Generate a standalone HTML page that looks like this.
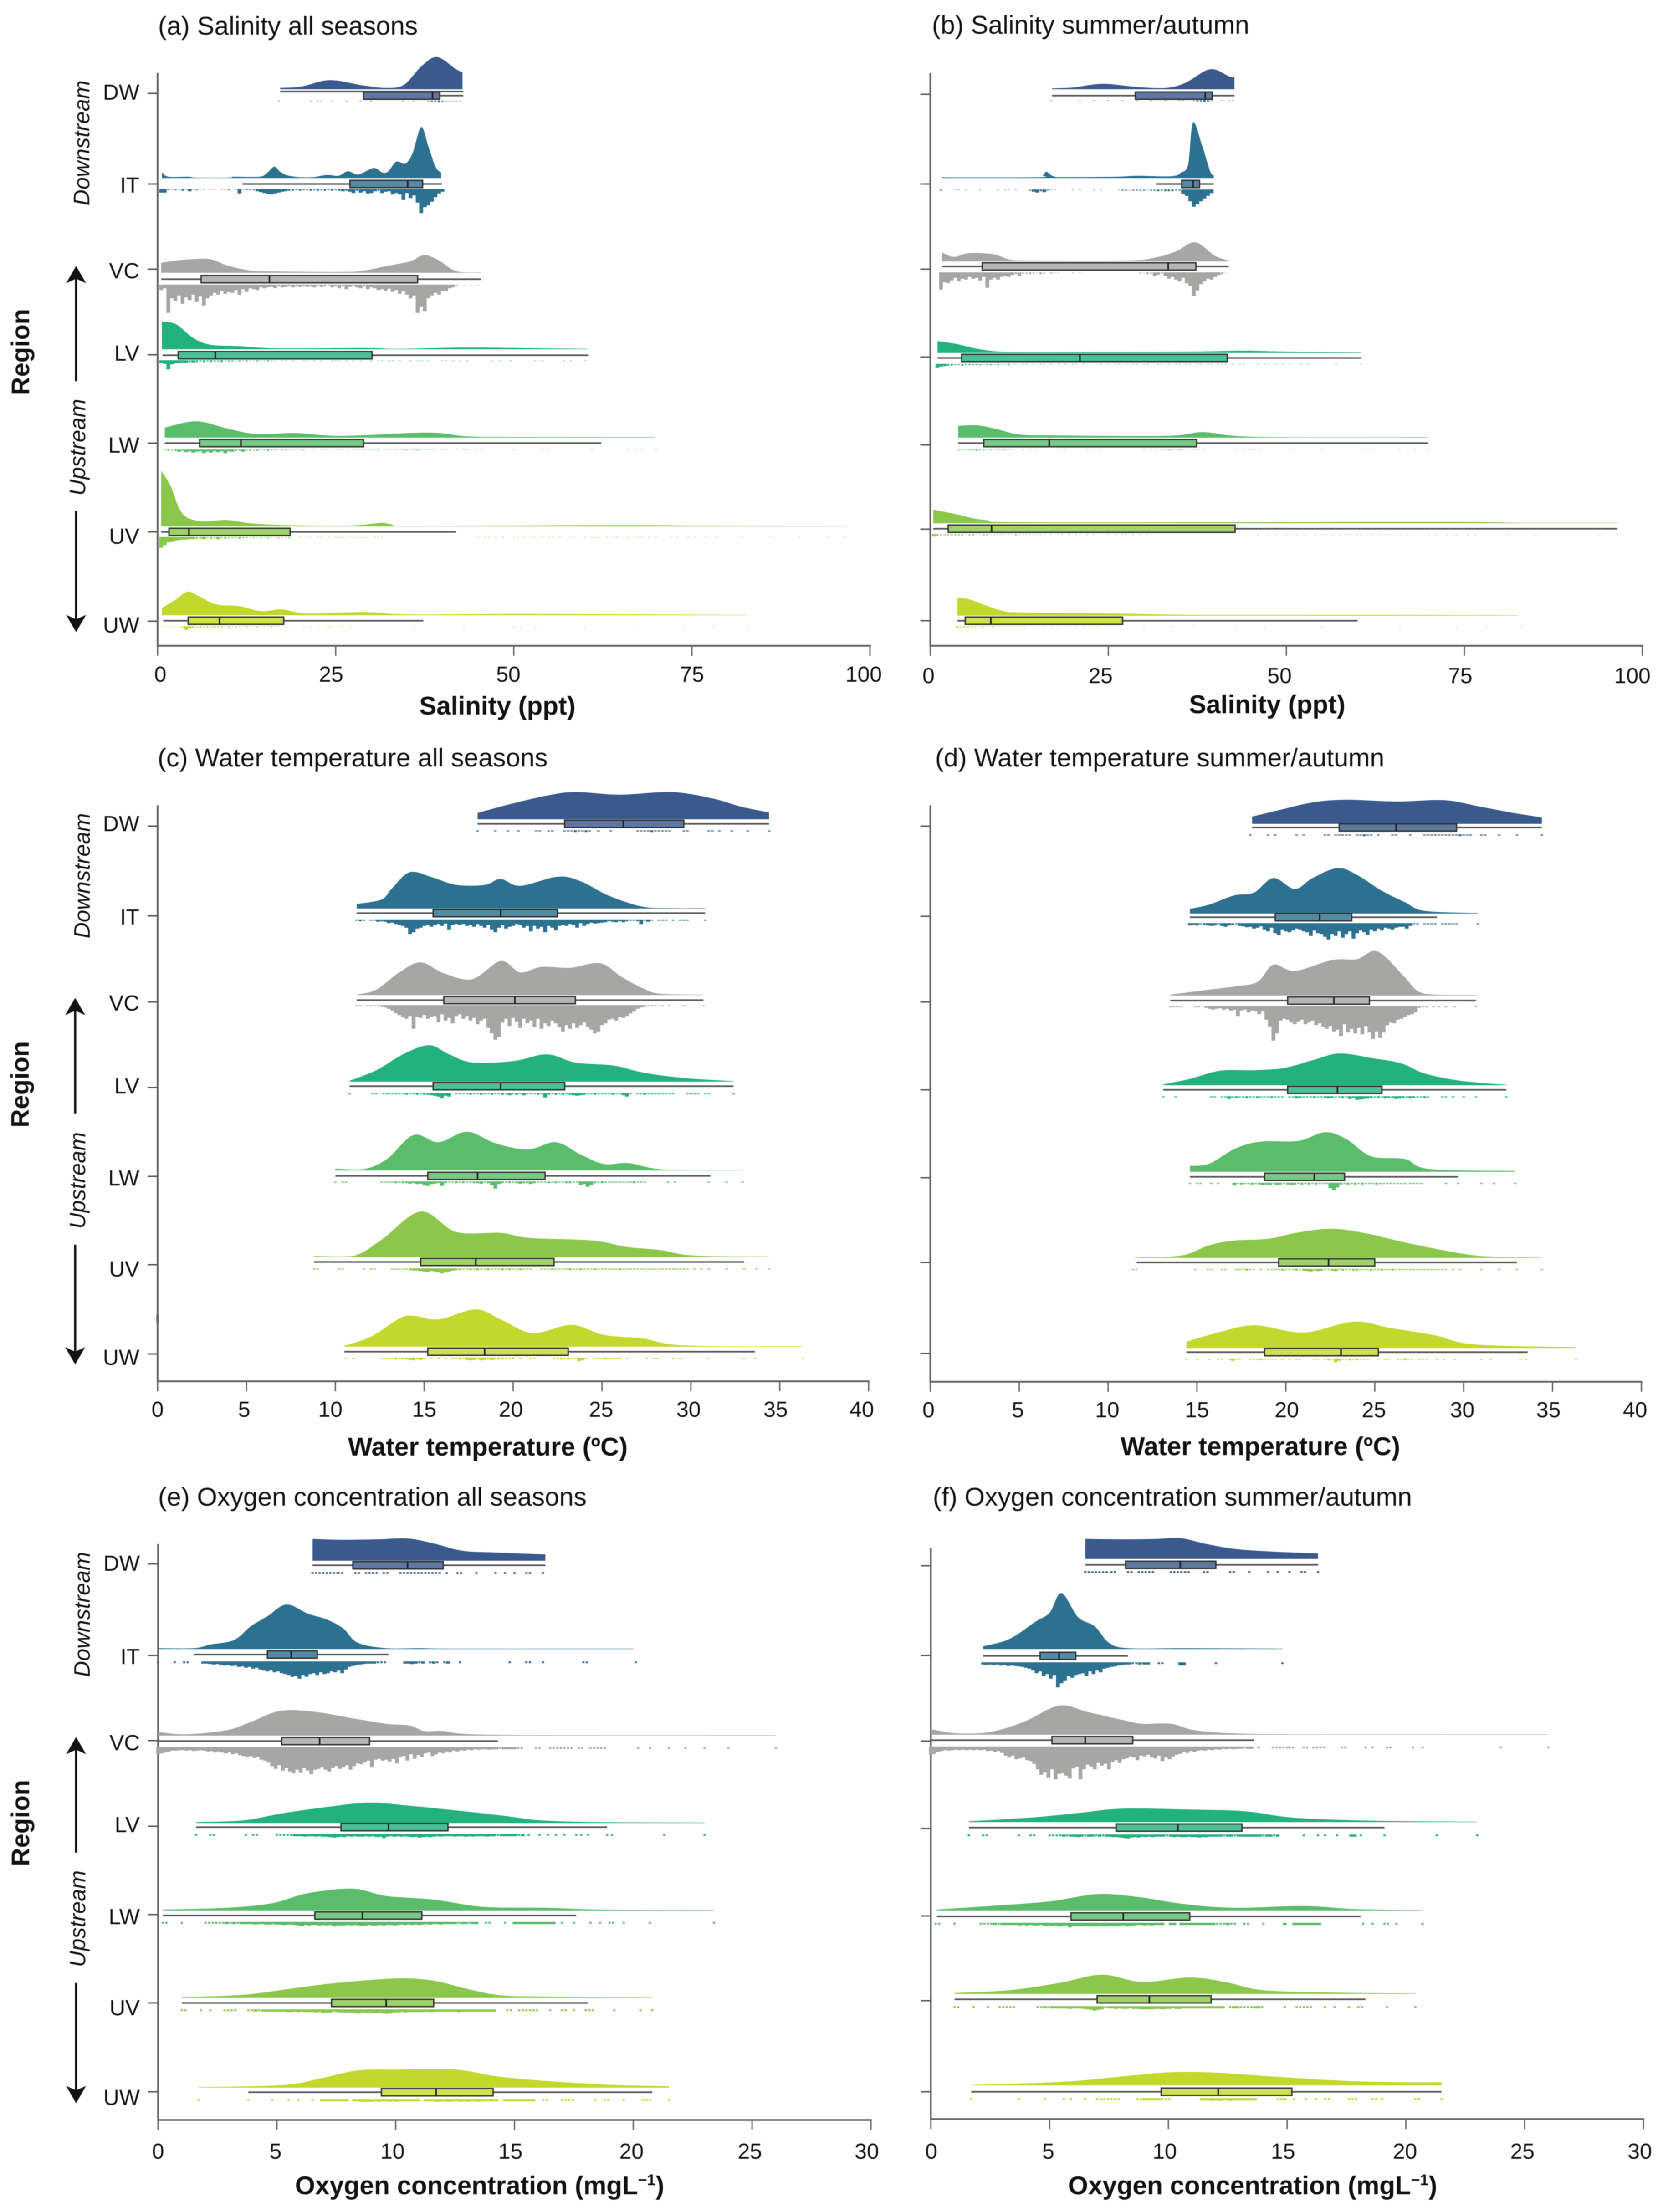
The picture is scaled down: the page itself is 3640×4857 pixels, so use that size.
<!DOCTYPE html>
<html lang="en">
<head>
<meta charset="utf-8">
<title>Raincloud plots of salinity, water temperature and oxygen by region</title>
<style>
html,body{margin:0;padding:0;background:#fff;}
svg{display:block;filter:blur(0.9px);}
text{font-family:"Liberation Sans",Arial,sans-serif;fill:#111;}
.panel-title{font-size:57px;}
.axis-title{font-size:56.7px;font-weight:bold;}
.tick-label{font-size:48px;text-anchor:middle;}
.region-label{font-size:48px;text-anchor:end;}
.side-title{font-size:56px;font-weight:bold;text-anchor:middle;}
.side-note{font-size:49px;font-style:italic;text-anchor:middle;}
</style>
</head>
<body>
<svg id="fig" xmlns="http://www.w3.org/2000/svg" width="3640" height="4857" viewBox="0 0 3640 4857">
  <rect x="0" y="0" width="3640" height="4857" fill="#fff"/>

  <text class="panel-title" x="347" y="76">(a) Salinity all seasons</text>
  <text class="panel-title" x="2046" y="74">(b) Salinity summer/autumn</text>
  <text class="panel-title" x="346" y="1683">(c) Water temperature all seasons</text>
  <text class="panel-title" x="2053" y="1683">(d) Water temperature summer/autumn</text>
  <text class="panel-title" x="347" y="3306">(e) Oxygen concentration all seasons</text>
  <text class="panel-title" x="2048" y="3306">(f) Oxygen concentration summer/autumn</text>

  <text class="axis-title" text-anchor="middle" x="1092" y="1569">Salinity (ppt)</text>
  <text class="axis-title" text-anchor="middle" x="2782" y="1566">Salinity (ppt)</text>
  <text class="axis-title" text-anchor="middle" x="1071" y="3196">Water temperature (ºC)</text>
  <text class="axis-title" text-anchor="middle" x="2767" y="3195">Water temperature (ºC)</text>
  <text class="axis-title" text-anchor="middle" x="1053" y="4818">Oxygen concentration (mgL<tspan dy="-20" font-size="34">−1</tspan><tspan dy="20">)</tspan></text>
  <text class="axis-title" text-anchor="middle" x="2750" y="4818">Oxygen concentration (mgL<tspan dy="-20" font-size="34">−1</tspan><tspan dy="20">)</tspan></text>

  <text class="side-title" transform="translate(64,773) rotate(-90)">Region</text>
  <text class="side-title" transform="translate(63,2381) rotate(-90)">Region</text>
  <text class="side-title" transform="translate(64,4003) rotate(-90)">Region</text>

  <text class="side-note" transform="translate(196,314) rotate(-90)">Downstream</text>
  <text class="side-note" transform="translate(187,982) rotate(-90)">Upstream</text>
  <text class="side-note" transform="translate(197,1923) rotate(-90)">Downstream</text>
  <text class="side-note" transform="translate(187,2592) rotate(-90)">Upstream</text>
  <text class="side-note" transform="translate(197,3545) rotate(-90)">Downstream</text>
  <text class="side-note" transform="translate(187,4213) rotate(-90)">Upstream</text>

  <g>
    <line x1="167" y1="837" x2="167" y2="600" stroke="#111" stroke-width="5"/>
    <polygon points="167,584 189,622 167,612 145,622" fill="#111"/>
  </g>
  <g>
    <line x1="167" y1="1122" x2="167" y2="1372" stroke="#111" stroke-width="5"/>
    <polygon points="167,1388 189,1350 167,1360 145,1350" fill="#111"/>
  </g>
  <g>
    <line x1="165" y1="2445" x2="165" y2="2207" stroke="#111" stroke-width="5"/>
    <polygon points="165,2191 187,2229 165,2219 143,2229" fill="#111"/>
  </g>
  <g>
    <line x1="165" y1="2733" x2="165" y2="2980" stroke="#111" stroke-width="5"/>
    <polygon points="165,2996 187,2958 165,2968 143,2958" fill="#111"/>
  </g>
  <g>
    <line x1="167" y1="4068" x2="167" y2="3830" stroke="#111" stroke-width="5"/>
    <polygon points="167,3814 189,3852 167,3842 145,3852" fill="#111"/>
  </g>
  <g>
    <line x1="167" y1="4354" x2="167" y2="4602" stroke="#111" stroke-width="5"/>
    <polygon points="167,4618 189,4580 167,4590 145,4580" fill="#111"/>
  </g>
  <line x1="346" y1="2886" x2="346" y2="2906" stroke="#888" stroke-width="6"/>
</svg>

<script>
/* ---------- categories and tick labels ---------- */
const regions = ['DW','IT','VC','LV','LW','UV','UW'];
const salinityTicks = [0,25,50,75,100];
const temperatureTicks = [0,5,10,15,20,25,30,35,40];
const oxygenTicks = [0,5,10,15,20,25,30];

/* ---------- box statistics per region: low whisker, q1, median, q3, high whisker ---------- */
const boxA = [[17.2,28.9,38.6,39.6,42.9],[11.9,27,35.1,37.2,39.9],[0.5,6.1,15.7,36.5,45.4],[0.7,2.9,8.1,30.1,60.5],[1,5.9,11.7,28.9,62.3],[0.5,1.6,4.4,18.6,41.9],[0.8,4.3,8.7,17.7,37.3]];
const boxB = [[17.1,28.8,38.6,39.6,42.7],[31.7,35.3,36.9,37.8,39.8],[1.6,7.3,33.4,37.3,41.9],[1,4.4,21,41.7,60.5],[3.9,7.5,16.7,37.4,69.9],[0.4,2.5,8.6,42.8,96.5],[3.8,4.9,8.5,27,60]];
const boxC = [[18,22.9,26.2,29.6,34.4],[11.2,15.5,19.3,22.5,30.8],[11.2,16.1,20.1,23.5,30.7],[10.8,15.5,19.3,22.9,32.4],[10,15.2,18,21.8,31.1],[8.8,14.8,17.9,22.3,33],[10.5,15.2,18.4,23.1,33.6]];
const boxD = [[18.1,23,26.2,29.6,34.4],[14.6,19.4,21.9,23.7,28.5],[13.5,20.1,22.7,24.7,30.7],[13.1,20.1,22.9,25.4,32.4],[14.6,18.8,21.6,23.3,29.7],[11.6,19.6,22.4,25,33],[14.4,18.8,23.1,25.2,33.6]];
const boxE = [[6.5,8.2,10.5,12,16.3],[1.5,4.6,5.6,6.7,9.7],[0,5.2,6.8,8.9,14.3],[1.6,7.7,9.7,12.2,18.9],[0.2,6.6,8.6,11.1,17.6],[1,7.3,9.6,11.6,18.1],[3.8,9.4,11.7,14.1,20.8]];
const boxF = [[6.5,8.2,10.5,12,16.3],[2.2,4.6,5.4,6.1,8.3],[0,5.1,6.5,8.5,13.6],[1.6,7.8,10.4,13.1,19.1],[0.25,5.9,8.1,10.9,18.1],[1,7,9.2,11.8,18.3],[1.7,9.7,12.1,15.2,21.5]];

/* ---------- density outlines per region: [value, density height] ---------- */
const densityA = [
 [[17.2,3],[20.2,6],[24.2,20],[29,8],[32.2,3],[34.6,10],[37,50],[39.2,71],[41.8,45],[42.8,37]],
 [[0.6,13],[1.5,3],[4.2,3],[5.5,1],[10,1],[10.7,3],[14.3,3],[15.4,12],[16.4,25],[17.2,14],[18.2,6],[19.9,2],[21.8,2],[23.8,7],[25.4,5],[26.7,15],[28.2,8],[30.3,22],[31.6,12],[32.4,15],[33.5,36],[34.8,32],[35.8,55],[37,112],[38,70],[39,25],[39.8,12]],
 [[0.5,22],[2.6,27],[5,30],[7.4,30],[9.8,16],[13,5],[16.2,3],[25.8,2],[29,5],[32.2,15],[35.4,25],[37.4,39],[39.4,28],[41.4,7],[43,1],[45.4,1]],
 [[0.6,61],[2.6,55],[5,25],[7.4,10],[11.4,7],[17,2],[29,3],[33.8,1],[43.4,4],[54.6,2],[60.5,1]],
 [[1,22],[5.4,36],[9.8,20],[13.8,8],[19.4,10],[25.8,4],[37.8,11],[43.4,3],[49.8,1.5],[69.8,1]],
 [[0.5,122],[1.8,90],[3.4,30],[5.8,12],[9.8,14],[13,7],[17.8,3],[26,1.5],[29,4],[31.4,8],[33,4],[34.6,1],[49.8,2],[65.8,3],[75.4,2],[96.6,1]],
 [[0.6,16],[2.6,35],[4.2,52],[5.8,42],[8.2,24],[11.4,20],[14.6,9],[17.4,13],[21,4],[29,7],[35.4,2],[52.2,3],[82.6,1]]
];
const densityB = [
 [[17.1,2],[20.1,4],[24.2,12],[29,5],[33.1,3],[35.8,14],[39.3,44],[42,28],[42.7,27]],
 [[1.6,2],[3.6,1.5],[15.3,2],[15.8,6],[16.3,14],[16.9,7],[17.5,3],[18.7,2],[26.2,3],[29,5],[33.8,4],[35.2,12],[36.2,30],[36.9,122],[38.2,70],[39.3,15],[39.8,6]],
 [[1.6,20],[3.3,10],[5.3,18],[8.8,16],[11.2,4],[13.9,2],[27.6,2],[31.7,9],[34.5,22],[37.2,42],[40,12],[41.9,2]],
 [[1,26],[3.6,20],[7,8],[11.2,2],[22,2],[37.2,3],[44,5],[49.6,3],[60.5,1]],
 [[3.9,26],[6.7,27],[9.5,18],[12.5,7],[17.3,5],[33.1,4],[38.2,12],[42.7,4],[49.6,1],[69.9,1]],
 [[0.4,30],[3.6,20],[7.7,7],[15.3,2],[70,3],[84,1],[96.5,1]],
 [[3.8,40],[5.7,35],[9.8,12],[13.2,7],[26.2,5],[37.2,2],[63,2],[82.5,1]]
];
const densityC = [
 [[18,14],[20,35],[21.9,52],[23.5,60],[26,54],[28.9,60],[31.2,46],[32.8,28],[34.4,15]],
 [[11.2,10],[12.6,20],[13.2,45],[14.2,80],[15.5,68],[16.8,52],[18.4,52],[19.3,65],[20.4,50],[22.5,70],[23.8,60],[25.4,28],[27.3,4],[28.9,1],[30.8,1]],
 [[11.2,1],[12.3,12],[13.6,50],[14.8,72],[16.1,48],[17.7,35],[19.3,75],[20.4,50],[21.6,62],[23.2,60],[24.9,70],[26.1,40],[27.3,15],[28.3,3],[30.7,1]],
 [[10.8,2],[12.3,25],[13.9,62],[15.3,80],[16.4,60],[17.7,42],[20,45],[21.9,60],[23.5,42],[25.7,35],[27.3,20],[29.6,8],[32.4,1]],
 [[10,4],[11.6,3],[12.9,25],[14.4,78],[15.8,62],[17.4,85],[19,60],[20.8,46],[22.4,62],[23.8,35],[25.1,14],[26.5,16],[28.5,2],[32.9,1]],
 [[8.8,2],[11,2],[12.6,38],[14.8,100],[16.8,55],[19.3,53],[20.9,42],[24.5,36],[26.4,22],[28.3,15],[30.2,3],[34.4,1]],
 [[10.5,2],[12,22],[13.6,62],[14.4,68],[15.8,60],[17.9,82],[19.3,60],[21.1,30],[23.3,48],[25.1,26],[27.3,18],[29.6,3],[36.3,1]]
];
const densityD = [
 [[18.1,16],[19.6,30],[21.5,47],[23.4,53],[26.2,49],[28.9,52],[30.9,38],[32.8,24],[34.4,14]],
 [[14.6,10],[15.7,20],[17.1,40],[18.2,46],[19.3,78],[20.5,54],[21.5,78],[22.9,100],[24,85],[25.4,50],[26.7,25],[27.8,6],[30.8,1]],
 [[13.5,2],[15.5,12],[17.1,20],[18.4,30],[19.3,68],[20.5,54],[22.6,78],[24,80],[24.9,98],[25.6,85],[26.7,40],[27.8,4],[30.7,1]],
 [[13.1,2],[14.6,14],[16.3,32],[18.2,33],[19.9,38],[21.5,55],[23,70],[24.8,60],[26.5,48],[27.8,26],[29.8,10],[32.4,1]],
 [[14.6,13],[15.7,18],[17.1,50],[18.5,66],[20.7,68],[22.2,87],[23.4,72],[24.8,34],[26.7,28],[28.1,6],[32.9,2]],
 [[11.5,1],[14.1,5],[15.7,28],[17.1,38],[19,42],[20.7,56],[22.6,64],[24.5,54],[26.7,34],[29.5,12],[31.4,3],[34.4,1]],
 [[14.4,14],[16,32],[18.2,50],[21,34],[23.8,58],[25.9,44],[28.4,28],[30.6,8],[36.3,2]]
];
const densityE = [
 [[6.5,48],[7.7,46],[9.2,47],[10.5,49],[11.6,38],[12.8,22],[14.2,18],[16.3,14]],
 [[0,2],[1.5,2],[2.2,10],[3.2,20],[3.9,50],[4.6,72],[5.4,98],[6.3,78],[7.1,65],[7.8,45],[8.4,14],[9.6,2],[11,2],[12.5,1],[20,1]],
 [[0,8],[1.2,3],[2.9,12],[3.9,30],[5.1,54],[6.5,53],[8.2,38],[9.6,26],[10.6,22],[11.2,10],[12,10],[13.2,3],[17.3,1],[26,1]],
 [[1.6,2],[3.6,6],[5.3,22],[7.2,36],[8.9,45],[10.6,38],[12.5,28],[14.4,17],[16.1,6],[18.7,2],[23,1]],
 [[0.2,2],[2.9,6],[4.8,16],[6.3,38],[8.2,48],[9.6,32],[11.6,24],[13.7,8],[16.3,6],[18.7,2],[23.4,1]],
 [[1,2],[3.6,7],[5.8,22],[7.7,34],[10.1,43],[11.6,38],[13,20],[14.4,6],[16.3,3],[20.8,1]],
 [[1.7,1],[5.3,6],[6.8,20],[8.4,38],[10.1,40],[12.5,40],[14.4,24],[16.8,13],[19.2,6],[21.5,3]]
];
const densityF = [
 [[6.5,44],[8.1,43],[9.5,44],[10.5,46],[11.5,34],[12.8,22],[14.4,16],[16.3,12]],
 [[2.2,6],[3.3,22],[4.4,60],[5,80],[5.5,123],[6.2,70],[6.9,50],[7.5,14],[8.3,2],[10.7,2],[14.8,1]],
 [[0,12],[1.1,3],[2.5,6],[3.9,28],[5.4,64],[6.6,50],[8.1,32],[8.9,24],[10.1,24],[11.1,10],[12.8,3],[15.9,1],[26,1]],
 [[1.6,2],[4.2,10],[6.2,20],[8.1,30],[10.7,28],[13.2,24],[15.2,10],[17.9,4],[20.2,2],[23,1]],
 [[0.25,2],[2.5,10],[5,20],[7,36],[8.7,30],[10.7,14],[12.8,6],[15.7,10],[17.9,3],[20.7,1]],
 [[1,2],[3.3,8],[5.4,24],[7.2,42],[8.9,26],[10.9,36],[12.4,26],[14,8],[16.9,3],[20.4,1]],
 [[1.7,1],[5.6,8],[8.1,20],[10.1,29],[12,28],[14.8,18],[17.9,9],[20,7],[21.5,7]]
];

/* ---------- rain histograms per region: runs of [start value, [depth per bin]] ---------- */
const rainA = [
 [[17,[2]],[21.5,[2]],[22.5,[2,2]],[24.5,[2]],[26.5,[2]],[28.5,[2]],[30,[2]],[34.5,[2]],[36,[2]],[38,[2,3,3,4,3]],[40.5,[2,2,2]],[42,[2,2]]],
 [[0.5,[8,8]],[1.5,[3,2,3,2,4,2,5,2,3,2,2,0,2,2,0,2,2,3,0,2,10,2,3,3,3]],[14,[5,7,9,11,12,10,8,6,5,4,4,3,4,3,3,4,3,4,3,4,3,4,3,4,5,4,6,9,4,8,5,10,9,5,4,9,6,5,12,9,12,24,9,20,14,30,53,40,36,28,18,10,6]]],
 [[0.5,[12,8,62,30,36,24,42,28,34,22,38,26,46,30,24,18,22,14,20,16,18,12,22,10,16,8,10,12,6,8,6,5,8,4,6,5,4,6,4,5,4,5,4,6,3,5,4,3,6,4,8,4,10,5,4,6,8,4,10,6,8,12,10,14,9,16,12,20,14,22,30,24,62,48,58,30,24,18,22,14,14,8,6,3,0,2,0,2,0,2]]],
 [[0.5,[6,8,20,9,7,6,5,6,4,5,4,3,4,3,4,3,3,4,2,3,3,2,3,2,3,2,2,3,2,2,3,2]],[16.5,[2,0,2,2,0,2,0,0,2,2,0,2,0,2,0,0,2,2,2,0,2,0,2,0,2,0,0,2,0,2,2,0,2]],[33,[2,0,2,0,0,2,0,2,2,0,2]],[40,[2,2,0,2,0,2,0,2]],[47,[2,0,2,0,0,2]],[53,[2,0,2]],[57,[2,0,2]],[60,[2]]],
 [[1,[3,4,3,4,6,4,7,5,8,6,5,9,6,8,5,7,5,9,5,6,4,4,6,3,4,3,4,3,3,4,3,3,2,3,3,2,3,2,2,3]],[22,[2,0,2,2,0,2,0,2,2,2,0,2,2,0,2,2]],[30,[2,2,3,0,2,2,0,2,2,3,3,2,3,3,2,2,2,2,2,0,2,2]],[42,[2,0,2,2,0,2,0,2]],[50,[2]],[54,[2,0,2]],[61,[2]],[66,[2,0,2,0,2]],[70,[2]]],
 [[0.5,[24,18,12,10,8,7,6,6,5,5,4,4,5,3,4,3,5,3,4,3,3,3,4,3,3,2,3,2,3,2,3,2,2,3,2,2,3]],[20,[2,0,2,2,0,2,2,0,2,0,2,2,2,0,2,2,2,2,2,2,0,2,2,2]],[45,[2,0,2,2,0,2,0,2]],[50,[2,2,0,2,0,2,2,0,2,0,2,2,0,2,0,0,2,2]],[60,[2,0,2,2,2,0,2,0,2,2,0,2,2,0,2,2,2,0,2,0,2]],[72,[2,0,2,0,0,2,0,2,0,0,2,0,0,2]],[82,[2]],[86,[2]],[90,[2]],[94,[2]],[96.5,[2]]],
 [[0.5,[2,2,2,2,2,2,3,8,5,4,3,4,3,3,3,4,3,3,2,3,2,3,2,2,3,2,2,3,2,2,2,3,2,2]],[18,[2,0,2,0,0,2,0,2,0,2,0,2,2,2,0,2,2,0,2]],[36,[2]],[43,[2]],[50,[2,0,2]],[53,[2]],[60,[2]],[67,[2]],[74,[2]],[78,[2]],[83,[2]]]
];
const rainB = [
 [[17,[2]],[21,[2]],[23,[2]],[25,[2]],[27,[2]],[29,[2]],[31,[2]],[33,[2]],[35,[2,2]],[37,[2,3,3,4,3,2]],[41,[2,0,2,2]]],
 [[1.5,[3]],[3.5,[2,2,0,2]],[7,[2]],[9.5,[2,0,2,2,0,2]],[14,[3,5,7,4,6,3,2,2]],[20,[2,0,2]],[23,[2,0,2]],[26.5,[2,3,3,2,3,3,3,3,2,3,3,4,3,4,4,4,3,3,10,14,26,38,32,26,20,14,8]]],
 [[1.5,[38,22,24,18,12,20,14,16,10,14,12,18,10,34,16,12,16,10,8,10,6,4,8,3,3,4,3]],[15,[2,4,3,0,3,2,2]],[20,[2,0,2]],[29.5,[3,2,4,3,8,5,3,8,14,10,16,20,12,24,30,52,40,26,20,14,16,10,6,4,2]]],
 [[1,[8,6,5,4,4,3,3,4,3,3,3,3,3,2,3,3,2,3,2,2,3]],[12,[2,0,2,2,0,2,0,2,2,0,2]],[18,[2,0,2,0,2,2,0,2]],[24,[2,0,2,0,2,2,0,2,0,2,2,0,2,2]],[32,[2,2,0,2,0,2,2,0,2,2,0,2,2,0,2,2,0,2,2,2,0,2,0,2,2]],[46,[2,0,2,2,0,2,0,2,0,2]],[52,[2,0,2]],[57,[2]],[60.5,[2]]],
 [[4,[3,3,3,3,3,4,3,3,2,3,2,3,2,3,2,2]],[13,[2,0,2,0,2]],[18,[2,0,2]],[22,[2,0,2,0,2]],[30,[2,0,2,2,0,2,2,3,3,2,3,2,2,0,2,2,0,2]],[43,[2,0,2,0,2,2,0,2]],[51,[2]],[55,[2]],[61,[2,0,2]],[66,[2]],[68,[2]],[70,[2]]],
 [[0.5,[5,4,3,3,3,3,3,3,3,2,3,3,2,2,3,3,2,2,2,2,2,2,2,3,2,2,2,2,2,2,2,2]],[17,[2,0,2,2,0,2,0,2,2,0,2,0,2]],[25,[2,0,2,0,2,2,0,2,0,2,0,2]],[46,[2,0,0,2,0,2,0,0,2,0,2,2,0,2]],[54,[2,0,2,2,0,2,0,2,0,2,2,0,2,2,0,2,2,0,2,0,2,2,0,2,2,0,2]],[70,[2,0,2,0,0,2,0,2,2,0,0,2,0,2]],[81,[2]],[85,[2]],[94,[2]],[96.5,[2]]],
 [[3.8,[4,3,3,3,3,3,2,3,2,2,3,2,2,2,2,2,2,2,2,2]],[15,[2,0,2,0,2,0,2,0,0,2,0,2,0,2,0,2,0,2]],[30,[2]],[34,[2]],[37,[2]],[43,[2]],[47,[2]],[55,[2]],[66,[2]],[74,[2]],[78,[2]],[83,[2]]]
];
const rainC = [
 [[18,[3]],[19,[3]],[19.7,[3]],[20.3,[3]],[21.3,[3,3]],[22,[3,3]],[22.9,[3,3,3,4,3,3,4,3]],[24.8,[3]],[25.5,[3]],[27,[3,3,3,3,4,3,3,3,3,3]],[29.6,[3,3]],[31,[3,3,0,3]],[32.3,[3]],[33.2,[3]],[34.4,[3]]],
 [[11.2,[3,4,3,0,3,3,5,4,5,8,7,10,12,14,18,32,28,20,18,14,12,16,12,10,14,9,22,12,10,12,10,14,12,16,10,14,18,12,22,28,18,12,20,16,14,10,12,18,14,26,14,20,16,28,14,18,24,14,12,14,10,12,18,8,14,10,7,9,8,7,6,4,5,6,4,6,4,3,3,4,10,3,5,3,0,3,3,3,0]],[29,[3,0,3,3,3]],[30.8,[3]]],
 [[11.2,[3,3,0,3,3,3,3,4,5,8,12,18,22,26,30,24,52,26,28,22,30,26,24,38,20,34,28,40,24,20,30,24,34,28,42,34,30,50,62,76,70,38,30,46,28,36,50,30,40,34,48,30,52,40,46,34,40,48,58,44,52,40,50,44,38,48,54,62,58,44,40,32,30,34,26,28,24,18,14,8,5,4,3,3,3,0,3,0,3]],[29.6,[3]],[30.7,[3]]],
 [[10.8,[3]],[12.1,[3,3,0,3,3]],[13,[3,3,3,3,3,4,3,3,4,3,4,4,5,6,8,12,6,8]],[16.6,[0,3,3,3,3,4,3,3,4,3,3,4,3,3,4,3,5,3,4,3,5,3,3,3,4,3,10,4,3,4,3,4,3,4,5,6,5,4,3,3,4,3,3,3,3,4,3,3,5,8,3]],[27,[3,3,4,3,3,3,3,3,3,3,3,0,0,0,3,3,3,0,0,3]],[30,[3,0,3]],[31,[3]],[32.4,[3]]],
 [[10,[3,0,3,3]],[12.6,[3,3,3,3,4,3,4,4,5,4,6,5,8,10,6,5,4,10,4,3,3,4,3,4,3,3,4,4,5,3,4,8,16,6,4,3,4,3,4,5,4,4,6,4,3,3,3,4,3,4,3,3,4,4,3,3,8,6,12,8,4,3,4,3,3,3,3,3,3,3,3,4,3,3,3]],[28.7,[3,0,3]],[31,[3]],[32,[3]],[32.9,[3]]],
 [[8.8,[3,3]],[10.2,[3,3]],[11.6,[3]],[12,[3,3]],[13.2,[3,3,3,3,3,4,5,5,6,7,8,6,7,9,11,9,7,5,4,4,3,3,4,3,4,3,3,4,3,3,3,4,3,4,3,3,4,3,3,3,0,0,3,3,3,4,3,3,3,3,4,3,3,4,3,3,3,4,3,3,3,3,3,3,4,3,3,3,3,3,3,3,3,3,3,3,3,3,3,3,3,3,3,3]],[30.2,[3,0,3]],[31,[3]],[32,[3]],[33,[3]],[33.7,[3]],[34.4,[3]]],
 [[10.6,[3,0,3]],[12.6,[3,3,3,3,4,3,4,4,5,6,4,5,3,0,3,0,3,0,3]],[16.6,[3,3,4,3,5,6,5,4,6,5,4,5,4,4,4,3,3,3]],[20,[3,0,3,0,0,3,3]],[22.3,[3,3,4,3,4,3,3,8,6,3]],[24.6,[3,3,3,4,3,3,3,3]],[26,[3,0,3]],[27.5,[3,0,3,3]],[29,[3,0,3]],[31,[3]],[33,[3]],[33.6,[3]],[36.3,[3]]]
];
const rainD = [
 [[18,[3]],[19,[3]],[19.4,[3]],[20.6,[3]],[21,[3]],[22.2,[3,3,0,3,3,3,3,3,0,3,3,4,3,3]],[25.2,[3]],[26,[3,3]],[27,[3]],[27.8,[3,3,3,3,3,3,3,3,3,3,4,3,3,3]],[31,[3,3]],[32,[3]],[33,[3]],[34.4,[3]]],
 [[14.6,[5,4,5,3,4,5,6,5,3,6,8,5,4,3,6,7,9,8,12,10,7,14,18,10,22,26,14,18,20,16,12,14,18,20,28,16,22,24,30,36,24,28,18,32,24,18,34,22,16,20,26,14,18,12,16,10,12,14,10,8]],[26.6,[8,12,6,3,3,0,3,3,3,3,0,3,3,3,3,3]],[30.8,[3]]],
 [[13.5,[3,3,3,3,0,0,0,3,3]],[15.5,[4,6,8,6,5,8,6,10,8,22,10,8,14,10,12,18,12,30,45,76,60,32,28,30,36,40,34,30,40,36,32,42,38,46,50,44,56,52,66,40,58,50,60,48,62,44,58,72,56,70,58,42,36,38,30,28,24,20,18,14,4,3,3,0,3]],[28.6,[3,0,3]],[29.5,[3]],[30.7,[3]]],
 [[13.1,[3]],[13.8,[3]],[15.8,[3,3]],[16.4,[3,3,6,3,4,3,3,4,3,3,4,3,3,3,4,3,3,3,0,3,3,5,4,3,3,3,4,3,3,4,5,4,3,3,4,3,6,4,8,7,6,5,4,3,4,3,5,4,4,6,5,4,3,5,4,3,3,4,3]],[28.8,[3,3,0,3]],[30,[3]],[30.7,[3]],[32.4,[3]]],
 [[14.6,[3,0,3,3]],[15.8,[3,0,3]],[17.1,[6,3,4,3,3,4,3,4,5,4,5,3,5,4,3,4,5,4,3,4,3,4,3,4,3,3,3,12,16,10,4,3,4,3,4,3,4,3,3,3,4,3,3,3,3,3,3,3,3]],[27,[3,3,3,3]],[29,[3]],[29.7,[3]],[31,[3]],[31.7,[3]],[32.9,[3]]],
 [[11.4,[3,3]],[14.9,[3]],[15.6,[3,3]],[16.4,[3,3,0,0,3,3,3,4,3,3]],[18.6,[3,0,3,3,3,3,4,3,3,3,4,3,4,5,6,4,5,4,3,3,4,5,3,4,3,3,4,4,3,3,3,4,3,3,4,3,3,4,3,3,3,3,3,3,3,3,3,3,3,3,3,3]],[29,[3,0,3,0,3]],[31,[3]],[32,[3]],[33,[3]],[34.4,[3]]],
 [[14.4,[3]],[15,[3]],[15.7,[3]],[16.2,[3,3]],[16.8,[3,5,3,3]],[18,[3,3,3,4,3]],[19,[3,3,3,0,3,0,3,0,3,3]],[21.6,[3,3,0,3,4,3,8,5,3,3,4,3,4,3,3,3]],[25.2,[3,0,3,3]],[26.3,[3,3,4,3,3,0,3,3,3]],[28.5,[3,0,3]],[29.5,[3]],[31,[3]],[31.5,[3]],[33.2,[3]],[33.5,[3]],[36.3,[3]]]
];
const rainE = [
 [[6.5,[4,4,4,4,4,4,4,4]],[7.6,[4,4]],[8.3,[4,4,0,4,4,4,4,0,4,4]],[10.2,[4,4,4,4,4,4,4,4,4,4]],[11.7,[4,4,0,4]],[12.6,[4,4]],[13.4,[4]],[14.2,[4]],[14.6,[4]],[15,[4]],[15.5,[4,4]],[16.2,[4]]],
 [[0,[4]],[0.7,[4]],[1.1,[4,4]],[1.9,[5,5,6,7,6,8,9,8,10,9,12,11,14,12,16,14,18,20,22,20,24,22,26,28,30,34,32,38,30,34,28,26,30,24,28,26,22,24,20,26,18,12,10,8,7,6,5,5,5,4,4,4]],[10.4,[5,5,6,5,4,5,0,4,5,4,0,4,5]],[12.7,[4]],[14.8,[4]],[15.5,[4,4]],[16.2,[4]],[17.9,[4,4]],[20.1,[4]]],
 [[0,[16,14,12,10,8,8,7,7,8,7,9,8,7,8,10,9,12,10,12,14,12,16,14,18,20,22,20,24,22,28,30,34,42,48,40,52,46,54,58,50,56,46,52,60,50,48,44,50,54,46,42,48,44,40,50,42,36,38,34,30,44,28,26,30,28,32,26,36,22,20,30,16,26,18,22,14,12,20,16,12,14,10,12,8,10,7,8,6,7,5,6,5,5,6,5,5,4,5,5,5,5,4,4]],[15.9,[4,4]],[16.5,[4,4,4,4,4,4,4]],[17.7,[4,4]],[18.2,[4,4,4,4,4]],[20.2,[4]],[20.7,[4]],[21.5,[4]],[22.2,[4]],[23,[4]],[24,[4]],[26,[4]]],
 [[1.6,[4]],[2.2,[4,4]],[3.7,[4]],[4,[4,4]],[5,[4,4,4,4,4,5,5,5,6,5,5,6,5,6,6,7,8,7,6,7,5,6,5,6,6,5,6,5,7,6,9,6,5,6,5,6,5,6,7,6,8,7,6,7,6,5,6,5,5,5,6,5,5,6,5,6,5,5,5,6,5,5,4,5,5,5,5,5,4,5]],[15.6,[4]],[16.05,[4]],[16.4,[4]],[16.75,[4]],[17.1,[4]],[17.6,[4]],[17.8,[4]],[18.1,[4]],[18.9,[4]],[19.1,[4]],[21.3,[4]],[23,[4]]],
 [[0.2,[4,4]],[1,[4]],[2,[4,4,4,4,4,4,5,4,5,4,5,5,5,5,6,5,5,6,6,5,6,6,7,6,6,7,8,10,7,8,7,7,8,7,8,7,10,8,8,8,7,8,7,8,9,8,7,8,8,7,8,7,7,8,7,6,7,6,7,6,7,6,5,6,5,5,6,5,5,5,5,4,5,5,4,5,5]],[13.8,[4,4]],[14.6,[4]],[15,[5,5,5,5,5,5,5,5,5,5,5,5]],[17,[4]],[17.5,[4]],[18.2,[4]],[18.6,[4]],[19,[4,4]],[19.6,[4]],[20.7,[4]],[23.4,[4]]],
 [[1,[4,4]],[1.8,[4]],[2.2,[4]],[2.8,[4,4,4,4]],[3.8,[4,4,5,4,5,5,5,5,5,5,5,6,6,5,6,5,6,6,6,7,6,9,7,7,5,6,7,7,7,8,8,9,7,8,7,8,8,7,9,10,9,7,7,6,7,6,6,6,6,6,5,6,6,5,5,5,5]],[12.35,[5,5,6,5,5,5,5,5,5,5,5,5,5]],[14.7,[4,4]],[15.2,[4,4,4,4,4,4]],[16.5,[4]],[17,[4,4]],[17.5,[4]],[18,[4,4,4]],[19.2,[4]],[20.3,[4]],[20.8,[4]]],
 [[1.7,[4]],[3.8,[4]],[4.8,[4]],[5.5,[4]],[5.9,[4]],[6.5,[4]],[6.9,[5,5,5,5,5,5,5,5,0,5,5,6,6,6,6,5,6,5,5,6,5,6,5,5,5,5,5,5,0,5,5,5,6,6,5,6,6,5,5,6,5,6,5,5,6,5,5,5,5,5]],[14.6,[5,5,5,5,5,5,5,5,5]],[16.2,[4,4]],[17,[4,4,4,4]],[18.4,[4]],[18.8,[4,4]],[19.6,[4]],[20.4,[4,4,4]],[21.5,[4]]]
];
const rainF = [
 [[6.5,[4,4,4,4,4,4,4]],[7.6,[4,4]],[8.3,[4,4,0,4,4,4,4,4]],[10.1,[4,4,4,4,4,4]],[11.5,[4,4]],[12.6,[4,4]],[13.4,[4]],[14.2,[4]],[14.6,[4]],[15.1,[4]],[15.6,[4,4]],[16.3,[4]]],
 [[2.2,[5,6,5,6,5,7,6,8,7,8,9,10,12,14,18,24,20,30,26,36,28,55,46,40,30,34,28,26,24,30,20,26,18,22,14,12,10,9,7,6,5,5]],[8.5,[4,4,5,4]],[9,[5,5]],[9.6,[4,4]],[10.5,[7,7]],[12,[4]],[14.8,[4]]],
 [[0,[18,16,12,10,8,9,8,7,8,7,8,7,8,7,8,7,10,9,12,10,14,20,24,20,28,26,24,30,32,38,50,62,56,68,50,72,60,58,64,70,48,44,72,50,40,44,50,36,42,38,50,34,30,36,28,26,22,24,30,20,22,18,24,26,20,32,24,28,22,18,16,12,14,10,12,9,8,9,7,8,6,7,5,6,5,6,5,5,4,5,5]],[13.8,[4]],[14.4,[4,4,4,4,4]],[15.1,[4,4]],[15.7,[4,4]],[16.1,[4,4,4,4]],[17.3,[4,4]],[18.3,[4]],[18.6,[4]],[19.2,[4,4]],[20.3,[4]],[20.7,[4]],[24,[4]],[26,[4]]],
 [[1.6,[4]],[2.2,[4,4]],[3.7,[4]],[4.2,[4,4]],[5,[4,4,4,4,5,4,5,5,6,5,4,5,5,4,5,4,5,5,6,6,7,8,9,7,6,7,5,6,5,6,5,5,5,4,5,6,5,6,6,5,6,6,7,6,6,5,5,5,5,4,5,5,4,5,5,5,5,5,5,5,4,5,5,4,5]],[15.7,[4]],[16.3,[4]],[16.6,[4]],[17.1,[4]],[17.7,[5,5]],[18.1,[4]],[19.1,[4]],[21.3,[4]],[23,[4]]],
 [[0.2,[4,4]],[1,[4]],[2.1,[4,4,4,4,5,4,5,5,5,5,5,6,5,6,5,6,6,5,7,6,7,6,8,7,6,10,7,7,8,7,7,8,8,7,7,8,7,7,8,7,6,8,7,6,5,5,6,5,6,5,5,5]],[10.1,[5,5,0,5,5,5,5,5,5,5,5,5,5,4,4,4,5,4,4]],[13.2,[4,4]],[14,[4]],[14.9,[5]],[15.3,[5,5,5,5,5,5,5,5]],[18.2,[4]],[18.6,[4]],[19.1,[4,4]],[19.6,[4]],[20.7,[4]]],
 [[1,[4,4]],[1.8,[4]],[2.4,[4]],[2.9,[4,4,4,4,4]],[4.5,[4,4,5,4,5,5,5,5,5,6,5,5,5,6,7,8,10,8,7,4,5,5,6,5,6,6,5,6,6,7,7,7,7,6,6,7,6,6,5,6,6,5,5,5,5,5,5,5,5,5,5,5,5]],[12.6,[4,5,5,4,4,4,4,5,5,4]],[14.9,[4]],[15.4,[4,4,4,4,4]],[16.6,[4]],[17,[4]],[17.6,[4]],[18,[4,4]],[19.2,[4]],[20.4,[4]]],
 [[1.7,[4]],[3.7,[4]],[4.8,[4]],[5.6,[4]],[5.9,[4]],[6.5,[4]],[7,[4,4,4,4,4,4,4]],[8.7,[4,4,5,5,5,5,5,4,4,4]],[11.4,[5,5,5,6,5,6,5,5,6,5,5,5,5,5,5,5]],[14.6,[4,4,5]],[15.3,[4]],[15.8,[4]],[16.2,[4]],[16.6,[4,4]],[17.6,[4,4,4]],[18.6,[4,4]],[19,[4]],[20.4,[4,4]],[21.5,[4]]]
];

/* ---------- styling and page layout (separate from the data above) ---------- */
const regionColors = ['#3a5a8e','#2d7190','#a6a6a5','#23b17e','#5bbd6b','#8bc74a','#c2d82c'];
const panels = [
 {id:'a',x0:346,x1:1910,xMax:100,top:160,bottom:1418,ticks:salinityTicks,box:boxA,density:densityA,rain:rainA,step:0.5,barW:5,tickLabelY:1497,
  labelShift:[6,-10,-12,0,-14],rowTick:[205,404,591,779,973,1168,1364],rowBase:[196,391,599,767,961,1156,1351],rowBox:[210,404,613,780,973,1168,1363],rowRain:[221,415,625,791,986,1179,1375],rowLabel:[202,406,594,775,977,1177,1372],guide:[201,null,null,null,null,null,null]},
 {id:'b',x0:2042.5,x1:3605.7,xMax:100,top:160,bottom:1418,ticks:salinityTicks,box:boxB,density:densityB,rain:rainB,step:0.5,barW:5,tickLabelY:1500,
  labelShift:[-4,-17,-15,-9,-22],rowTick:[207,404,591,784,977,1162,1363],rowBase:[196,391,574,775,961,1149,1352],rowBox:[210,404,585,786,973,1161,1363],rowRain:[220,416,598,799,986,1173,1375]},
 {id:'c',x0:346,x1:1907,xMax:40,top:1768,bottom:3033,ticks:temperatureTicks,box:boxC,density:densityC,rain:rainC,step:0.2,barW:6,tickLabelY:3111,
  labelShift:[0,-5,-11,0,-5,-2,-5,-9,-15],rowTick:[1814,2011,2200,2388,2583,2777,2973],rowBase:[1799,1995,2185,2375,2570,2760,2957],rowBox:[1809,2005,2196,2385,2582,2771,2968],rowRain:[1823,2019,2207,2400,2594,2785,2981],rowLabel:[1808,2013,2202,2384,2586,2786,2980]},
 {id:'d',x0:2042.5,x1:3603.6,xMax:40,top:1768,bottom:3034,ticks:temperatureTicks,box:boxD,density:densityD,rain:rainD,step:0.2,barW:6,tickLabelY:3112,
  labelShift:[-4,-3,-2,0,2,-2,-3,-9,-14],rowTick:[1814,2012,2200,2393,2586,2772,2972],rowBase:[1809,2006,2186,2383,2573,2762,2960],rowBox:[1817,2014,2197,2393,2584,2772,2969],rowRain:[1832,2027,2209,2407,2597,2786,2983]},
 {id:'e',x0:347,x1:1912,xMax:30,top:3390,bottom:4655,ticks:oxygenTicks,box:boxE,density:densityE,rain:rainE,step:0.15,barW:5,tickLabelY:4740,
  labelShift:[0,-3,-7,-9,-4,-5,-9],rowTick:[3434,3635,3822,4010,4204,4398,4593],rowBase:[3427,3621,3811,4003,4195,4387,4584],rowBox:[3437,3633,3823,4012,4206,4398,4594],rowRain:[3452,3648,3836,4027,4220,4412,4609],rowLabel:[3432,3637,3826,4006,4208,4408,4605]},
 {id:'f',x0:2043.6,x1:3608,xMax:30,top:3399,bottom:4653,ticks:oxygenTicks,box:boxF,density:densityF,rain:rainF,step:0.15,barW:5,tickLabelY:4740,
  labelShift:[1,-3,-8,-9,-2,-5,-8],rowTick:[3438,3635,3823,4015,4207,4393,4593],rowBase:[3423,3621,3809,4001,4195,4378,4579],rowBox:[3436,3636,3821,4013,4208,4390,4593],rowRain:[3450,3650,3835,4028,4222,4405,4607]}
];
const boxHalf = 8;
const axisColor = '#666';
const SVGNS = 'http://www.w3.org/2000/svg';
const fig = document.getElementById('fig');

function mk(tag, attrs, parent){
  const el = document.createElementNS(SVGNS, tag);
  for (const k in attrs) el.setAttribute(k, attrs[k]);
  parent.appendChild(el);
  return el;
}

/* Smooth outline through the read density points, with vertical ends on the baseline */
function densityPath(pts, xf, yf, base){
  const P = pts.map(p => [xf(p[0]), yf(p[1])]);
  let d = 'M' + P[0][0].toFixed(1) + ' ' + base + 'L' + P[0][0].toFixed(1) + ' ' + P[0][1].toFixed(1);
  for (let i = 0; i < P.length - 1; i++){
    const p0 = P[Math.max(0,i-1)], p1 = P[i], p2 = P[i+1], p3 = P[Math.min(P.length-1,i+2)];
    const c1x = p1[0] + (p2[0]-p0[0])/6, c2x = p2[0] - (p3[0]-p1[0])/6;
    const c1y = Math.min(base, p1[1] + (p2[1]-p0[1])/6), c2y = Math.min(base, p2[1] - (p3[1]-p1[1])/6);
    d += 'C' + c1x.toFixed(1) + ' ' + c1y.toFixed(1) + ' ' + c2x.toFixed(1) + ' ' + c2y.toFixed(1) + ' ' + p2[0].toFixed(1) + ' ' + p2[1].toFixed(1);
  }
  return d + 'L' + P[P.length-1][0].toFixed(1) + ' ' + base + 'Z';
}

panels.forEach(function(p){
  const sx = v => p.x0 + (v / p.xMax) * (p.x1 - p.x0);
  const binPx = p.step * (p.x1 - p.x0) / p.xMax;
  const g = mk('g', {}, fig);
  
  

  /* axes */
  const yAxis = mk('line', {x1:p.x0,y1:p.top,x2:p.x0,y2:p.bottom,stroke:axisColor,'stroke-width':4}, g);
  
  
  const xAxis = mk('line', {x1:p.x0-2,y1:p.bottom,x2:p.x1+2,y2:p.bottom,stroke:axisColor,'stroke-width':4}, g);
  
  

  p.ticks.forEach(function(t, i){
    const tick = mk('line', {x1:sx(t),y1:p.bottom,x2:sx(t),y2:p.bottom+22,stroke:axisColor,'stroke-width':3}, g);
    
    
    const lab = mk('text', {x:sx(t)+p.labelShift[i],y:p.tickLabelY,'class':'tick-label'}, g);
    
    
    lab.textContent = t;
  });

  regions.forEach(function(region, i){
    const color = regionColors[i];
    const lname = region.toLowerCase();
    const row = mk('g', {}, g);
    
    

    const tick = mk('line', {x1:p.x0-22,y1:p.rowTick[i],x2:p.x0,y2:p.rowTick[i],stroke:'#555',"stroke-width":3}, row);
    
    

    if (p.rowLabel){
      const lab = mk('text', {x:p.x0-40,y:p.rowLabel[i]+17,'class':'region-label'}, row);
      
      
      lab.textContent = region;
    }

    /* density cloud */
    const base = p.rowBase[i];
    const cloud = mk('path', {d:densityPath(p.density[i], sx, h => base - h, base),fill:color}, row);
    
    

    /* box plot */
    const b = p.box[i], by = p.rowBox[i];
    const hasGuide = p.guide && p.guide[i] !== null && p.guide[i] !== undefined;
    const wy = hasGuide ? p.guide[i] : by;
    const wLow = mk('line', {x1:sx(b[0]),y1:wy,x2:hasGuide ? sx(b[4]) : sx(b[1]),y2:wy,stroke:'#555','stroke-width':3.5}, row);
    
    
    const wHigh = mk('line', {x1:sx(b[3]),y1:by,x2:sx(b[4]),y2:by,stroke:'#555','stroke-width':3.5}, row);
    
    
    const rect = mk('rect', {x:sx(b[1]),y:by-boxHalf,width:sx(b[3])-sx(b[1]),height:boxHalf*2,fill:color,'fill-opacity':0.82,stroke:'#333','stroke-width':3}, row);
    
    
    const med = mk('line', {x1:sx(b[2]),y1:by-boxHalf,x2:sx(b[2]),y2:by+boxHalf,stroke:'#222','stroke-width':3.5}, row);
    
    

    /* rain */
    const rainTop = p.rowRain[i];
    const rainG = mk('g', {fill:color}, row);
    
    
    p.rain[i].forEach(function(run){
      run[1].forEach(function(depth, k){
        if (!depth) return;
        const v = run[0] + k * p.step;
        /* dense bins merge into a solid jagged curtain, sparse bins stay separate specks */
        const w = depth >= 5 ? binPx + 0.6 : p.barW;
        const bar = mk('rect', {x:(sx(v)-w/2).toFixed(1),y:rainTop,width:w.toFixed(1),height:depth,opacity:depth<=2?0.45:(depth<=3?0.75:1)}, rainG);
        
        
      });
    });
  });
});
</script>
</body>
</html>
